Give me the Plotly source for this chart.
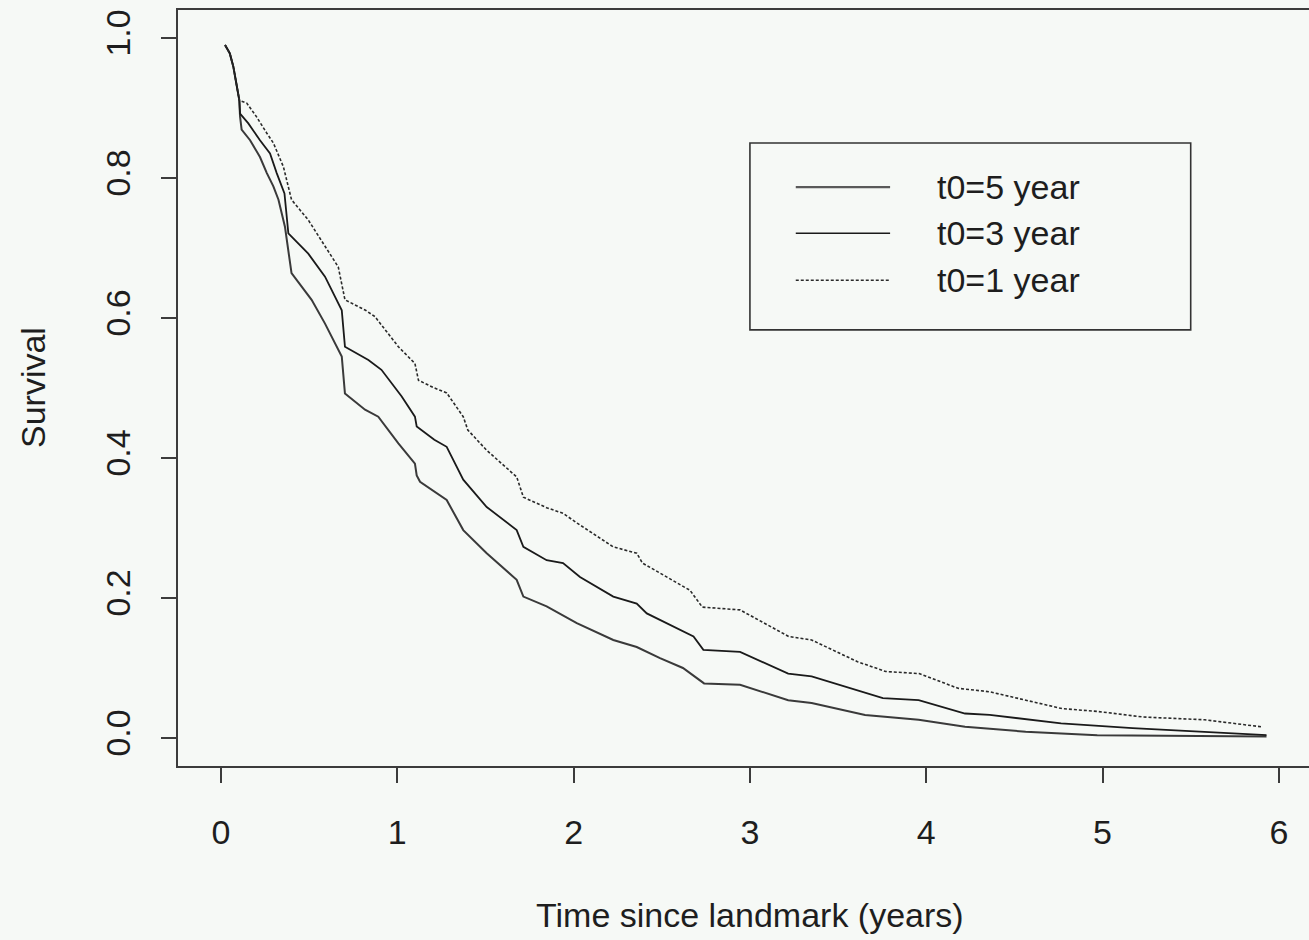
import plotly.graph_objects as go

# Landmark survival curves: time since landmark (years) vs survival probability
t_t0_5 = [0.023, 0.05, 0.07, 0.089, 0.104, 0.108, 0.117, 0.165, 0.221, 0.26,
          0.297, 0.326, 0.363, 0.40, 0.514, 0.59, 0.685, 0.703, 0.817, 0.892,
          1.006, 1.10, 1.11, 1.129, 1.28, 1.374, 1.507, 1.677, 1.715, 1.847,
          2.018, 2.225, 2.358, 2.49, 2.62, 2.74, 2.944, 3.217, 3.35, 3.653,
          3.957, 4.22, 4.564, 4.97, 5.93]
s_t0_5 = [0.99, 0.978, 0.959, 0.93, 0.911, 0.888, 0.869, 0.854, 0.83, 0.807,
          0.788, 0.769, 0.73, 0.664, 0.626, 0.592, 0.545, 0.492, 0.469, 0.459,
          0.421, 0.392, 0.375, 0.366, 0.34, 0.297, 0.264, 0.226, 0.202, 0.188,
          0.164, 0.14, 0.13, 0.114, 0.10, 0.078, 0.076, 0.054, 0.05, 0.033,
          0.026, 0.016, 0.009, 0.004, 0.002]

t_t0_3 = [0.023, 0.05, 0.07, 0.089, 0.104, 0.108, 0.155, 0.221, 0.278, 0.316,
          0.36, 0.382, 0.495, 0.59, 0.685, 0.703, 0.836, 0.91, 1.025, 1.10,
          1.11, 1.21, 1.28, 1.374, 1.507, 1.677, 1.715, 1.847, 1.94, 2.036,
          2.225, 2.358, 2.415, 2.68, 2.736, 2.944, 3.217, 3.35, 3.754, 3.957,
          4.22, 4.36, 4.765, 5.17, 5.575, 5.93]
s_t0_3 = [0.99, 0.978, 0.959, 0.93, 0.911, 0.892, 0.878, 0.854, 0.835, 0.807,
          0.778, 0.721, 0.692, 0.659, 0.611, 0.559, 0.54, 0.526, 0.488, 0.459,
          0.445, 0.426, 0.416, 0.369, 0.33, 0.297, 0.273, 0.254, 0.25, 0.23,
          0.202, 0.192, 0.178, 0.145, 0.126, 0.123, 0.092, 0.088, 0.057, 0.054,
          0.035, 0.033, 0.021, 0.014, 0.009, 0.004]

t_t0_1 = [0.023, 0.05, 0.07, 0.089, 0.104, 0.146, 0.2, 0.26, 0.297, 0.354,
          0.382, 0.40, 0.495, 0.59, 0.665, 0.703, 0.82, 0.873, 1.006, 1.10,
          1.12, 1.21, 1.28, 1.374, 1.40, 1.507, 1.677, 1.715, 1.847, 1.94,
          2.02, 2.225, 2.358, 2.39, 2.66, 2.73, 2.944, 3.22, 3.35, 3.61,
          3.77, 3.96, 4.18, 4.36, 4.77, 4.97, 5.23, 5.58, 5.90]
s_t0_1 = [0.99, 0.978, 0.959, 0.93, 0.911, 0.907, 0.888, 0.864, 0.85, 0.816,
          0.788, 0.769, 0.74, 0.702, 0.673, 0.626, 0.611, 0.602, 0.559, 0.535,
          0.511, 0.50, 0.493, 0.459, 0.44, 0.411, 0.373, 0.344, 0.329, 0.321,
          0.307, 0.273, 0.264, 0.25, 0.211, 0.187, 0.183, 0.145, 0.14, 0.109,
          0.095, 0.092, 0.071, 0.066, 0.042, 0.038, 0.030, 0.026, 0.016]

legend_labels = ["t0=5 year", "t0=3 year", "t0=1 year"]
x_ticks = [0, 1, 2, 3, 4, 5, 6]
y_ticks = [0.0, 0.2, 0.4, 0.6, 0.8, 1.0]

FONT = "Liberation Sans, Arial, Helvetica, sans-serif"
TEXT = "#1e1e1e"
AXIS = "#3c3c3c"
BG = "#f6f9f6"

curve_styles = [
    dict(color="#3a3a3a", width=2.0, dash="solid"),
    dict(color="#1a1a1a", width=1.8, dash="solid"),
    dict(color="#2a2a2a", width=1.6, dash="3px,2px"),
]
key_styles = [
    dict(color="#5a5a5a", width=2.2, dash="solid"),
    dict(color="#1a1a1a", width=1.6, dash="solid"),
    dict(color="#2a2a2a", width=1.5, dash="3px,2px"),
]
series = [(t_t0_5, s_t0_5), (t_t0_3, s_t0_3), (t_t0_1, s_t0_1)]

fig = go.Figure()
for (tx, sy), name, st in zip(series, legend_labels, curve_styles):
    fig.add_trace(go.Scatter(x=tx, y=sy, mode="lines", name=name,
                             line=st, showlegend=False))

# legend box, drawn in data coordinates like R's legend(3, 0.85, ...)
leg_x0, leg_x1, leg_y0, leg_y1 = 3.0, 5.5, 0.583, 0.85
row_y = [0.787, 0.721, 0.654]
shapes = [dict(type="rect", xref="x", yref="y", x0=leg_x0, x1=leg_x1,
               y0=leg_y0, y1=leg_y1, line=dict(color="#333333", width=1.6))]
annotations = []
for yy, name, st in zip(row_y, legend_labels, key_styles):
    shapes.append(dict(type="line", xref="x", yref="y", x0=3.26, x1=3.795,
                       y0=yy, y1=yy, line=st))
    annotations.append(dict(xref="x", yref="y", x=4.05, y=yy, text=name,
                            showarrow=False, xanchor="left", yanchor="middle",
                            font=dict(family=FONT, size=34, color=TEXT)))

# axis titles
annotations.append(dict(xref="paper", yref="paper", x=0.5057, y=-0.197,
                        text="Time since landmark (years)", showarrow=False,
                        xanchor="center", yanchor="middle",
                        font=dict(family=FONT, size=34, color=TEXT)))
annotations.append(dict(xref="paper", yref="paper", x=-0.1282, y=0.5,
                        text="Survival", showarrow=False, textangle=-90,
                        xanchor="center", yanchor="middle",
                        font=dict(family=FONT, size=34, color=TEXT)))

fig.update_layout(
    width=1309, height=940, autosize=False,
    margin=dict(l=178, r=0, t=10, b=174, pad=0),
    paper_bgcolor=BG, plot_bgcolor=BG,
    shapes=shapes, annotations=annotations,
    showlegend=False,
)
fig.update_xaxes(range=[-0.2439, 6.171], tickvals=x_ticks,
                 ticktext=[str(v) for v in x_ticks],
                 showgrid=False, zeroline=False, showline=True, mirror=True,
                 linecolor=AXIS, linewidth=2, ticks="outside", ticklen=15,
                 tickwidth=2, tickcolor=AXIS, ticklabelstandoff=20,
                 tickfont=dict(family=FONT, size=34, color=TEXT))
fig.update_yaxes(range=[-0.04, 1.04], tickvals=y_ticks,
                 ticktext=[f"{v:.1f}" for v in y_ticks], tickangle=-90,
                 showgrid=False, zeroline=False, showline=True, mirror=False,
                 linecolor=AXIS, linewidth=2, ticks="outside", ticklen=15,
                 tickwidth=2, tickcolor=AXIS, ticklabelstandoff=17,
                 tickfont=dict(family=FONT, size=34, color=TEXT))

fig.write_html("out.html")
